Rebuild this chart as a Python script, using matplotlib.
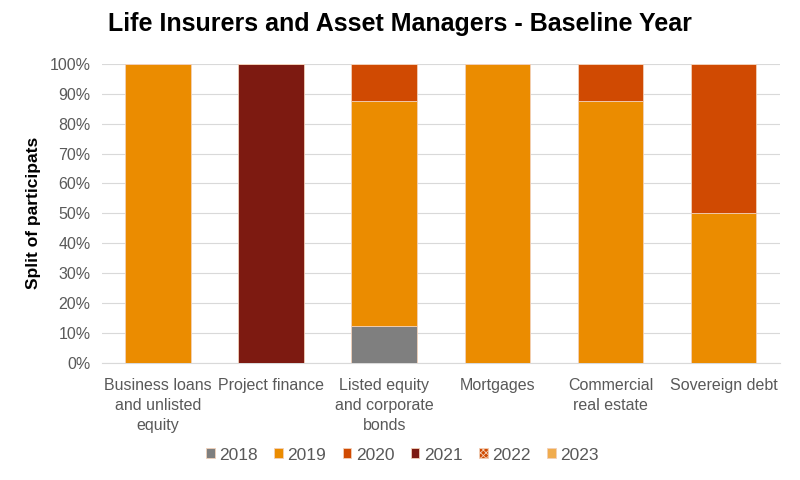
import matplotlib
matplotlib.use("Agg")
import matplotlib.pyplot as plt
import numpy as np

plt.rcParams['font.family'] = ['Liberation Sans', 'DejaVu Sans']
plt.rcParams['hatch.color'] = '#e8894a'
plt.rcParams['hatch.linewidth'] = 0.6

categories = ["Business loans\nand unlisted\nequity", "Project finance",
              "Listed equity\nand corporate\nbonds", "Mortgages",
              "Commercial\nreal estate", "Sovereign debt"]
years = ["2018", "2019", "2020", "2021", "2022", "2023"]
values = {
    "2018": [0, 0, 0.125, 0, 0, 0],
    "2019": [1.0, 0, 0.75, 1.0, 0.875, 0.5],
    "2020": [0, 0, 0.125, 0, 0.125, 0.5],
    "2021": [0, 1.0, 0, 0, 0, 0],
    "2022": [0, 0, 0, 0, 0, 0],
    "2023": [0, 0, 0, 0, 0, 0],
}
colors = {"2018": "#7f7f7f", "2019": "#eb8c00", "2020": "#d04a02",
          "2021": "#7d1a11", "2022": "#d04a02", "2023": "#f0ac4e"}

fig = plt.figure(figsize=(8, 4.8), dpi=100)
ax = fig.add_axes([0.127, 0.244, 0.848, 0.623])

x = np.arange(len(categories))
bottom = np.zeros(len(categories))
for y in years:
    v = np.array(values[y])
    hatch = "xxxxxx" if y == "2022" else None
    ax.bar(x, v, 0.58, bottom=bottom, color=colors[y], label=y,
           edgecolor="#f2d0b8", linewidth=0.6, hatch=hatch, zorder=3)
    bottom += v

ax.set_xlim(-0.5, len(categories) - 0.5)
ax.set_ylim(0, 1.0)
ax.set_yticks(np.arange(0, 1.01, 0.1))
ax.set_yticklabels([f"{int(round(t * 100))}%" for t in np.arange(0, 1.01, 0.1)])
ax.set_xticks(x)
ax.set_xticklabels(categories, linespacing=1.4)
ax.tick_params(axis="both", length=0, labelsize=11.5, colors="#595959")
ax.tick_params(axis="x", pad=11)
ax.tick_params(axis="y", pad=8)
ax.grid(axis="y", color="#d9d9d9", linewidth=0.8, zorder=0)
for s in ["top", "right", "left"]:
    ax.spines[s].set_visible(False)
ax.spines["bottom"].set_color("#d9d9d9")

ax.set_ylabel("Split of participats", fontsize=12.5, fontweight="bold", color="black", labelpad=6)
fig.suptitle("Life Insurers and Asset Managers - Baseline Year", fontsize=18,
             fontweight="bold", y=0.975)

leg = fig.legend(loc="center", bbox_to_anchor=(0.503, 0.052), ncol=6, frameon=False,
                 fontsize=12.5, handlelength=0.5, handleheight=0.5, handletextpad=0.25,
                 columnspacing=0.95)
for t in leg.get_texts():
    t.set_color("#595959")

fig.savefig("out.png", dpi=100)
